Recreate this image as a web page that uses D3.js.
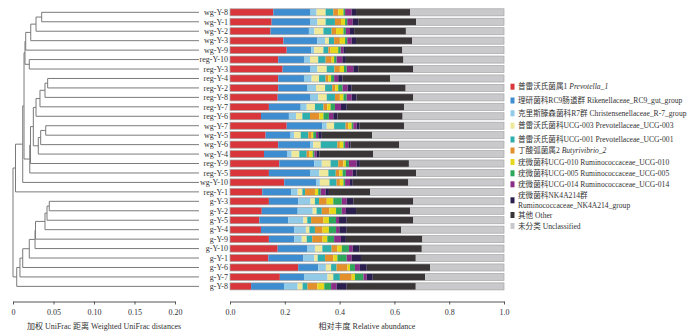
<!DOCTYPE html>
<html>
<head>
<meta charset="utf-8">
<script src="https://cdn.jsdelivr.net/npm/d3@7"></script>
<style>
  body { margin: 0; background: #fff; }
  text { font-family: "Liberation Serif", "Noto Sans CJK SC", serif; fill: #333; }
</style>
</head>
<body>
<script>
// sample order as drawn (top -> bottom)
var samples = ['wg-Y-8', 'wg-Y-1', 'wg-Y-2', 'wg-Y-3', 'wg-Y-9', 'reg-Y-10', 'reg-Y-3', 'reg-Y-4', 'reg-Y-2', 'reg-Y-8',
  'reg-Y-7', 'reg-Y-6', 'wg-Y-7', 'wg-Y-5', 'wg-Y-6', 'wg-Y-4', 'reg-Y-9', 'reg-Y-5', 'wg-Y-10', 'reg-Y-1',
  'g-Y-3', 'g-Y-2', 'g-Y-5', 'g-Y-4', 'g-Y-9', 'g-Y-10', 'g-Y-1', 'g-Y-6', 'g-Y-7', 'g-Y-8']

// relative abundance of each taxon, one value per sample (same order as samples)
var prevotella1 = [0.158, 0.152, 0.148, 0.195, 0.207, 0.176, 0.192, 0.176, 0.176, 0.174, 0.142, 0.113, 0.207, 0.13, 0.176, 0.124, 0.18, 0.142, 0.198, 0.118, 0.142, 0.116, 0.107, 0.113, 0.142, 0.174, 0.14, 0.249, 0.182, 0.077]
var rc9 = [0.136, 0.14, 0.14, 0.124, 0.089, 0.094, 0.102, 0.094, 0.107, 0.12, 0.116, 0.102, 0.13, 0.091, 0.116, 0.086, 0.128, 0.15, 0.116, 0.105, 0.107, 0.131, 0.106, 0.122, 0.093, 0.109, 0.128, 0.073, 0.088, 0.12]
var r7 = [0.022, 0.027, 0.02, 0.028, 0.011, 0.022, 0.025, 0.028, 0.031, 0.028, 0.022, 0.026, 0.016, 0.013, 0.012, 0.015, 0.027, 0.034, 0.014, 0.024, 0.045, 0.055, 0.055, 0.042, 0.027, 0.027, 0.04, 0.028, 0.086, 0.05]
var ucg003 = [0.033, 0.03, 0.033, 0.014, 0.034, 0.03, 0.034, 0.027, 0.033, 0.031, 0.03, 0.023, 0.027, 0.024, 0.027, 0.028, 0.032, 0.033, 0.035, 0.017, 0.016, 0.014, 0.014, 0.013, 0.018, 0.027, 0.012, 0.019, 0.021, 0.018]
var ucg001 = [0.028, 0.034, 0.03, 0.019, 0.018, 0.027, 0.028, 0.024, 0.026, 0.03, 0.031, 0.028, 0.042, 0.028, 0.061, 0.027, 0.028, 0.027, 0.026, 0.01, 0.015, 0.019, 0.014, 0.02, 0.02, 0.034, 0.027, 0.02, 0.024, 0.018]
var butyrivibrio2 = [0.018, 0.022, 0.016, 0.021, 0.008, 0.022, 0.02, 0.01, 0.011, 0.018, 0.014, 0.034, 0.01, 0.012, 0.009, 0.01, 0.019, 0.013, 0.012, 0.036, 0.028, 0.028, 0.045, 0.028, 0.038, 0.021, 0.03, 0.04, 0.043, 0.036]
var ucg010 = [0.019, 0.015, 0.027, 0.019, 0.028, 0.009, 0.015, 0.01, 0.011, 0.013, 0.012, 0.015, 0.012, 0.006, 0.013, 0.012, 0.009, 0.012, 0.013, 0.012, 0.024, 0.024, 0.02, 0.023, 0.017, 0.016, 0.015, 0.009, 0.012, 0.025]
var ucg005 = [0.006, 0.008, 0.009, 0.008, 0.009, 0.009, 0.01, 0.011, 0.016, 0.012, 0.016, 0.02, 0.006, 0.01, 0.006, 0.006, 0.011, 0.012, 0.006, 0.009, 0.031, 0.021, 0.026, 0.026, 0.025, 0.026, 0.034, 0.018, 0.031, 0.025]
var ucg014 = [0.024, 0.02, 0.015, 0.016, 0.01, 0.021, 0.024, 0.015, 0.018, 0.018, 0.022, 0.016, 0.012, 0.008, 0.012, 0.008, 0.028, 0.025, 0.018, 0.018, 0.018, 0.015, 0.011, 0.012, 0.025, 0.014, 0.018, 0.018, 0.012, 0.02]
var nk4a214 = [0.016, 0.02, 0.015, 0.016, 0.009, 0.013, 0.018, 0.016, 0.015, 0.018, 0.021, 0.015, 0.01, 0.013, 0.008, 0.01, 0.012, 0.014, 0.01, 0.012, 0.024, 0.037, 0.028, 0.027, 0.018, 0.024, 0.034, 0.025, 0.022, 0.037]
var other = [0.197, 0.211, 0.189, 0.205, 0.206, 0.21, 0.201, 0.173, 0.197, 0.207, 0.209, 0.238, 0.163, 0.184, 0.178, 0.197, 0.179, 0.217, 0.203, 0.15, 0.219, 0.197, 0.243, 0.198, 0.279, 0.228, 0.2, 0.231, 0.191, 0.252]
var unclassified = [0.343, 0.321, 0.358, 0.335, 0.371, 0.367, 0.331, 0.416, 0.359, 0.331, 0.365, 0.37, 0.365, 0.481, 0.382, 0.477, 0.347, 0.321, 0.349, 0.489, 0.331, 0.343, 0.331, 0.376, 0.298, 0.3, 0.322, 0.27, 0.288, 0.322]

var seriesValues = [prevotella1, rc9, r7, ucg003, ucg001, butyrivibrio2, ucg010, ucg005, ucg014, nk4a214, other, unclassified]

// legend names: chinese part, latin part, italic latin?
var taxaZh = ['普雷沃氏菌属1', '理研菌科RC9肠道群', '克里斯滕森菌科R7群', '普雷沃氏菌科UCG-003', '普雷沃氏菌科UCG-001', '丁酸弧菌属2',
  '疣微菌科UCG-010', '疣微菌科UCG-005', '疣微菌科UCG-014', '疣微菌科NK4A214群', '其他', '未分类']
var taxaEn = ['Prevotella_1', 'Rikenellaceae_RC9_gut_group', 'Christensenellaceae_R-7_group', 'Prevotellaceae_UCG-003', 'Prevotellaceae_UCG-001', 'Butyrivibrio_2',
  'Ruminococcaceae_UCG-010', 'Ruminococcaceae_UCG-005', 'Ruminococcaceae_UCG-014', 'Ruminococcaceae_NK4A214_group', 'Other', 'Unclassified']
var taxaItalic = [true, false, false, false, false, true, false, false, false, false, false, false]
var colors = ['#d8363a', '#3d8dd0', '#92cbe8', '#f0e89b', '#2eaead', '#e38f2b', '#e7d71c', '#2ea65b', '#8b2d87', '#2a1f4e', '#3a3536', '#c9c9cc']

// weighted UniFrac tree: [node distance, child, child], leaves are sample names
var tree = [0,
  [0.0031,
    [0.012,
      [0.0136,
        [0.0148,
          [0.0157, [0.0219, [0.0284, [0.0354, 'wg-Y-8', 'wg-Y-1'], 'wg-Y-2'], 'wg-Y-3'], 'wg-Y-9'],
          [0.0201, 'reg-Y-10', 'reg-Y-3']],
        [0.0207,
          [0.0216,
            [0.0251,
              [0.0284, [0.0333, [0.0395, [0.0428, 'reg-Y-4', 'reg-Y-2'], 'reg-Y-8'], 'reg-Y-7'], 'reg-Y-6'],
              [0.0312, [0.0342, [0.0404, 'wg-Y-7', 'wg-Y-5'], 'wg-Y-6'], 'wg-Y-4']],
            'reg-Y-9'],
          'reg-Y-5']],
      'wg-Y-10'],
    'reg-Y-1'],
  [0.0046, [0.0086, [0.012, [0.0201, [0.0272, [0.0278, [0.0395, [0.042, [0.0448, 'g-Y-3', 'g-Y-2'], 'g-Y-5'], 'g-Y-4'], 'g-Y-9'], 'g-Y-10'], 'g-Y-1'], 'g-Y-6'], 'g-Y-7'], 'g-Y-8']]
var leafDistance = 0.2296

var distTicks = [0, 0.05, 0.1, 0.15, 0.2]
var distTickLabels = ['0', '0.05', '0.10', '0.15', '0.20']
var abundTicks = [0, 0.2, 0.4, 0.6, 0.8, 1.0]

var w = 700
var h = 333

var svg = d3.select('body')
  .append('svg')
  .attr('width', w)
  .attr('height', h)

var y = d3.scaleBand()
  .domain(samples)
  .range([7.6, 291.1])
  .paddingInner(0.25)
  .paddingOuter(0.125)

var xd = d3.scaleLinear().domain([0, 0.2]).range([13, 175])
var xb = d3.scaleLinear().domain([0, 1]).range([230, 504])

// ---- DENDROGRAM ----
var root = d3.hierarchy(tree, function (d) { return Array.isArray(d) ? d.slice(1) : null })
root.eachAfter(function (n) {
  if (n.children) {
    n.dist = n.data[0]
    n.yy = d3.mean(n.children, function (c) { return c.yy })
  } else {
    n.dist = leafDistance
    n.yy = y(n.data) + y.bandwidth() / 2
  }
})

var treeG = svg.append('g')
  .attr('fill', 'none')
  .attr('stroke', '#7a7a7a')
  .attr('stroke-width', 1)

root.descendants().forEach(function (n) {
  if (!n.children) return
  var ys = n.children.map(function (c) { return c.yy })
  treeG.append('line')
    .attr('x1', xd(n.dist)).attr('x2', xd(n.dist))
    .attr('y1', d3.min(ys)).attr('y2', d3.max(ys))
  n.children.forEach(function (c) {
    treeG.append('line')
      .attr('x1', xd(n.dist)).attr('x2', xd(c.dist))
      .attr('y1', c.yy).attr('y2', c.yy)
  })
})

// sample labels
svg.selectAll('.sample-label')
  .data(samples)
  .enter()
  .append('text')
  .classed('sample-label', true)
  .attr('x', 228)
  .attr('y', function (d) { return y(d) + y.bandwidth() / 2 })
  .attr('dy', '0.35em')
  .attr('text-anchor', 'end')
  .attr('font-size', 8)
  .text(function (d) { return d })

// ---- STACKED BARS ----
var rows = samples.map(function (s, i) {
  var r = { sample: s }
  seriesValues.forEach(function (arr, k) { r['t' + k] = arr[i] })
  return r
})
var keys = seriesValues.map(function (a, k) { return 't' + k })
var stacked = d3.stack().keys(keys)(rows)

var barG = svg.append('g')
barG.selectAll('g')
  .data(stacked)
  .enter()
  .append('g')
  .attr('fill', function (d, k) { return colors[k] })
  .selectAll('rect')
  .data(function (d) { return d })
  .enter()
  .append('rect')
  .attr('x', function (d) { return xb(d[0]) })
  .attr('width', function (d) { return Math.max(0, xb(d[1]) - xb(d[0])) })
  .attr('y', function (d) { return y(d.data.sample) })
  .attr('height', y.bandwidth())

// thin grey outline around each bar
barG.selectAll('.outline')
  .data(samples)
  .enter()
  .append('rect')
  .classed('outline', true)
  .attr('x', xb(0))
  .attr('width', xb(1) - xb(0))
  .attr('y', function (d) { return y(d) })
  .attr('height', y.bandwidth())
  .attr('fill', 'none')
  .attr('stroke', '#a5a5a7')
  .attr('stroke-width', 0.7)

// ---- AXES ----
var axisY = 301.5
var dAxis = svg.append('g')
  .attr('transform', 'translate(0,' + axisY + ')')
  .call(d3.axisBottom(xd).tickValues(distTicks).tickSize(3).tickSizeOuter(0)
    .tickFormat(function (d, i) { return distTickLabels[i] }))
var bAxis = svg.append('g')
  .attr('transform', 'translate(0,' + axisY + ')')
  .call(d3.axisBottom(xb).tickValues(abundTicks).tickSize(3).tickSizeOuter(0).tickFormat(d3.format('.1f')))

;[dAxis, bAxis].forEach(function (a) {
  a.selectAll('path, line').attr('stroke', '#555')
  a.selectAll('text')
    .attr('font-family', '"Liberation Serif", serif')
    .attr('font-size', 8)
    .attr('fill', '#333')
    .attr('dy', '0.9em')
})

svg.append('text')
  .attr('x', 104).attr('y', 329)
  .attr('text-anchor', 'middle')
  .attr('font-size', 8)
  .text('加权 UniFrac 距离 Weighted UniFrac distances')

svg.append('text')
  .attr('x', 367).attr('y', 329)
  .attr('text-anchor', 'middle')
  .attr('font-size', 8)
  .text('相对丰度  Relative abundance')

// ---- LEGEND ----
var legendY = [86.7, 100.5, 113.3, 125.7, 139.5, 150.5, 162, 173.3, 184.3, 195.7, 215, 226]
var legend = svg.append('g')
taxaZh.forEach(function (zh, k) {
  var ly = legendY[k]
  var twoLines = k === 9
  legend.append('rect')
    .attr('x', 510.5)
    .attr('y', (twoLines ? ly + 4.6 : ly) - 3)
    .attr('width', 4)
    .attr('height', 6)
    .attr('fill', colors[k])
  var t = legend.append('text')
    .attr('x', 518)
    .attr('y', ly)
    .attr('dy', '0.35em')
    .attr('font-size', 7.6)
  t.append('tspan').text(zh + (twoLines ? '' : ' '))
  if (twoLines) {
    legend.append('text')
      .attr('x', 518)
      .attr('y', ly + 9.3)
      .attr('dy', '0.35em')
      .attr('font-size', 7.6)
      .text(taxaEn[k])
  } else {
    t.append('tspan')
      .attr('font-style', taxaItalic[k] ? 'italic' : null)
      .text(taxaEn[k])
  }
})
</script>
</body>
</html>
